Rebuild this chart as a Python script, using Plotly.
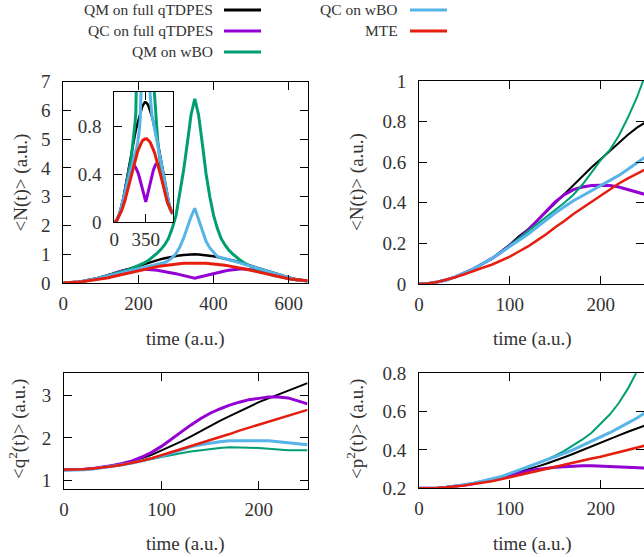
import plotly.graph_objects as go

# ---------------- data ----------------
series_names = ["QM on full qTDPES", "QC on full qTDPES", "QM on wBO", "QC on wBO", "MTE"]
series_colors = ["#000000", "#9400D3", "#009E73", "#56B4E9", "#E51E10"]

# <N(t)>, time grid 0..650 a.u., step 10
t_N = list(range(0, 651, 10))
black_N = [0, 0.003, 0.01, 0.02, 0.035, 0.055, 0.075, 0.10, 0.125, 0.16,
           0.195, 0.235, 0.27, 0.31, 0.355, 0.40, 0.445, 0.49, 0.535, 0.575,
           0.615, 0.655, 0.695, 0.735, 0.77, 0.80,
           0.83, 0.86, 0.89, 0.915, 0.94, 0.96, 0.975, 0.99, 1.0, 1.0,
           0.995, 0.985, 0.97, 0.95, 0.93, 0.905, 0.88, 0.85, 0.82, 0.79,
           0.755, 0.715, 0.675, 0.635, 0.595, 0.55, 0.51, 0.465, 0.42, 0.38,
           0.335, 0.295, 0.255, 0.22, 0.185, 0.155, 0.13, 0.105, 0.085, 0.07]
purple_N = [0, 0.003, 0.01, 0.02, 0.035, 0.055, 0.075, 0.10, 0.125, 0.155,
            0.19, 0.225, 0.265, 0.31, 0.36, 0.405, 0.44, 0.465, 0.478, 0.485,
            0.487, 0.485, 0.478, 0.465, 0.452, 0.44,
            0.42, 0.40, 0.375, 0.35, 0.32, 0.29, 0.26, 0.23, 0.2, 0.17,
            0.2, 0.235, 0.27, 0.3, 0.33, 0.36, 0.39, 0.42, 0.445, 0.465,
            0.48, 0.487, 0.487, 0.48, 0.465, 0.445, 0.42, 0.39, 0.36, 0.325,
            0.29, 0.255, 0.22, 0.19, 0.16, 0.135, 0.115, 0.1, 0.085, 0.075]
green_N = [0, 0.003, 0.01, 0.02, 0.035, 0.055, 0.075, 0.10, 0.125, 0.155,
           0.19, 0.225, 0.26, 0.295, 0.33, 0.365, 0.40, 0.44, 0.49, 0.55,
           0.61, 0.66, 0.73, 0.82, 0.92, 1.04,
           1.17, 1.33, 1.55, 1.9, 2.35, 3.1, 3.9, 4.85, 5.85, 6.4,
           5.85, 4.85, 3.8, 3.0, 2.35, 1.9, 1.55, 1.33, 1.15, 1.02,
           0.9, 0.8, 0.71, 0.63, 0.56, 0.5, 0.44, 0.39, 0.34, 0.3,
           0.26, 0.23, 0.2, 0.17, 0.15, 0.13, 0.11, 0.095, 0.08, 0.07]
blue_N = [0, 0.003, 0.01, 0.02, 0.035, 0.055, 0.075, 0.10, 0.125, 0.155,
          0.185, 0.215, 0.245, 0.28, 0.315, 0.35, 0.38, 0.41, 0.435, 0.46,
          0.485, 0.51, 0.535, 0.565, 0.595, 0.625,
          0.66, 0.71, 0.78, 0.88, 1.02, 1.25, 1.55, 1.95, 2.3, 2.6,
          2.2, 1.8, 1.45, 1.22, 1.05, 0.92, 0.88, 0.85, 0.81, 0.78,
          0.74, 0.70, 0.66, 0.62, 0.58, 0.54, 0.50, 0.455, 0.41, 0.37,
          0.33, 0.29, 0.25, 0.215, 0.18, 0.15, 0.125, 0.1, 0.085, 0.07]
red_N = [0, 0.003, 0.01, 0.02, 0.033, 0.048, 0.065, 0.08, 0.095, 0.115,
         0.135, 0.16, 0.185, 0.215, 0.245, 0.28, 0.31, 0.345, 0.375, 0.405,
         0.435, 0.465, 0.495, 0.52, 0.545, 0.57,
         0.59, 0.61, 0.63, 0.65, 0.665, 0.675, 0.685, 0.69, 0.695, 0.695,
         0.695, 0.69, 0.685, 0.675, 0.665, 0.65, 0.635, 0.615, 0.595, 0.575,
         0.55, 0.525, 0.5, 0.47, 0.44, 0.41, 0.38, 0.35, 0.315, 0.285,
         0.25, 0.22, 0.195, 0.17, 0.15, 0.13, 0.115, 0.1, 0.085, 0.075]

# <q^2(t)> and <p^2(t)>, time grid 0..250 a.u., step 10
t_qp = list(range(0, 251, 10))
black_q = [1.25, 1.25, 1.26, 1.28, 1.31, 1.35, 1.39, 1.45, 1.52, 1.6,
           1.7, 1.8, 1.91, 2.03, 2.16, 2.28, 2.40, 2.51, 2.62, 2.73,
           2.84, 2.93, 3.02, 3.11, 3.2, 3.29]
purple_q = [1.25, 1.25, 1.26, 1.28, 1.31, 1.35, 1.40, 1.46, 1.55, 1.66,
            1.80, 1.97, 2.14, 2.30, 2.45, 2.58, 2.68, 2.77, 2.84, 2.9,
            2.93, 2.96, 2.96, 2.94, 2.87, 2.8]
green_q = [1.24, 1.24, 1.25, 1.27, 1.3, 1.33, 1.37, 1.41, 1.45, 1.5,
           1.55, 1.6, 1.64, 1.68, 1.71, 1.74, 1.76, 1.78, 1.78, 1.77,
           1.76, 1.74, 1.72, 1.71, 1.71, 1.71]
blue_q = [1.24, 1.24, 1.25, 1.27, 1.3, 1.33, 1.37, 1.41, 1.46, 1.51,
          1.57, 1.64, 1.72, 1.79, 1.84, 1.88, 1.91, 1.93, 1.93, 1.94,
          1.94, 1.93, 1.91, 1.88, 1.86, 1.84]
red_q = [1.25, 1.25, 1.26, 1.28, 1.3, 1.33, 1.37, 1.41, 1.46, 1.52,
         1.59, 1.66, 1.73, 1.80, 1.87, 1.95, 2.02, 2.09, 2.17, 2.24,
         2.31, 2.38, 2.45, 2.52, 2.59, 2.66]

black_p = [0.2, 0.2, 0.202, 0.205, 0.21, 0.217, 0.225, 0.234, 0.245, 0.257,
           0.27, 0.284, 0.298, 0.313, 0.328, 0.343, 0.362, 0.38, 0.4, 0.42,
           0.44, 0.458, 0.476, 0.495, 0.512, 0.53]
purple_p = [0.2, 0.2, 0.202, 0.205, 0.21, 0.217, 0.225, 0.234, 0.245, 0.257,
            0.269, 0.28, 0.29, 0.298, 0.305, 0.31, 0.313, 0.316, 0.317, 0.317,
            0.315, 0.313, 0.311, 0.309, 0.307, 0.305]
green_p = [0.2, 0.201, 0.203, 0.207, 0.212, 0.219, 0.227, 0.237, 0.248, 0.26,
           0.275, 0.292, 0.31, 0.33, 0.35, 0.37, 0.395, 0.423, 0.455, 0.49,
           0.535, 0.585, 0.645, 0.72, 0.81, 0.91]
blue_p = [0.2, 0.2, 0.202, 0.205, 0.21, 0.218, 0.226, 0.236, 0.247, 0.26,
          0.278, 0.295, 0.311, 0.328, 0.345, 0.363, 0.382, 0.402, 0.423, 0.445,
          0.467, 0.49, 0.515, 0.54, 0.567, 0.597]
red_p = [0.2, 0.2, 0.202, 0.205, 0.209, 0.215, 0.222, 0.229, 0.237, 0.247,
         0.258, 0.269, 0.28, 0.291, 0.302, 0.314, 0.324, 0.335, 0.345, 0.355,
         0.365, 0.377, 0.389, 0.4, 0.412, 0.424]

N_series = [black_N, purple_N, green_N, blue_N, red_N]
q_series = [black_q, purple_q, green_q, blue_q, red_q]
p_series = [black_p, purple_p, green_p, blue_p, red_p]

# ---------------- figure ----------------
W, H = 644, 557
FONT = "Liberation Serif"
TXT = "#333333"

def xd(a, b):
    return [a / W, min(b / W, 1.0)]

def yd(top, bottom):
    return [(H - bottom) / H, (H - top) / H]

fig = go.Figure()

big_w = [2.5, 3, 3, 3, 3]
small_w = [2, 3, 2, 3, 2.5]

def add_panel(x, ys, xa, ya, widths):
    for name, col, y, w in zip(series_names, series_colors, ys, widths):
        fig.add_trace(go.Scatter(x=x, y=y, mode="lines", name=name,
                                 line=dict(color=col, width=w),
                                 xaxis=xa, yaxis=ya, showlegend=False,
                                 hoverinfo="skip"))

add_panel(t_N, N_series, "x", "y", big_w)
add_panel(t_N, N_series, "x2", "y2", small_w)
add_panel(t_qp, q_series, "x3", "y3", small_w)
add_panel(t_qp, p_series, "x4", "y4", small_w)
add_panel(t_N, N_series, "x5", "y5", big_w)

ax_common = dict(showline=True, linecolor="black", linewidth=1, mirror="ticks",
                 ticks="inside", ticklen=8, tickwidth=1, tickcolor="black",
                 showgrid=False, zeroline=False, automargin=False,
                 tickfont=dict(family=FONT, size=19, color=TXT))

def xa(domain, rng, tv, anchor, standoff=3):
    d = dict(ax_common)
    d.update(domain=domain, range=rng, tickvals=tv, anchor=anchor,
             ticklabelstandoff=standoff)
    return d

def ya(domain, rng, tv, tt, anchor, standoff=8):
    d = dict(ax_common)
    d.update(domain=domain, range=rng, tickvals=tv, ticktext=tt, anchor=anchor,
             ticklabelstandoff=standoff)
    return d

fig.update_layout(
    template="none",
    width=W, height=H, margin=dict(l=0, r=0, t=0, b=0, pad=0),
    paper_bgcolor="white", plot_bgcolor="white", showlegend=False,
    font=dict(family=FONT, size=19, color=TXT),
    xaxis=xa(xd(63.3, 307.5), [0, 650], [0, 200, 400, 600], "y"),
    yaxis=ya(yd(81.7, 283), [0, 7], [0, 1, 2, 3, 4, 5, 6, 7],
             ["0", "1", "2", "3", "4", "5", "6", "7"], "x"),
    xaxis2=xa(xd(419, 644), [0, 247.7], [0, 100, 200], "y2"),
    yaxis2=ya(yd(81, 284), [0, 1], [0, 0.2, 0.4, 0.6, 0.8, 1],
              ["0", "0.2", "0.4", "0.6", "0.8", "1"], "x2"),
    xaxis3=xa(xd(64, 307.5), [0, 250], [0, 100, 200], "y3"),
    yaxis3=ya(yd(373.3, 489.3), [0.79, 3.52], [1, 2, 3], ["1", "2", "3"], "x3"),
    xaxis4=xa(xd(419, 644), [0, 247.7], [0, 100, 200], "y4"),
    yaxis4=ya(yd(373.3, 488.3), [0.2, 0.8], [0.2, 0.4, 0.6, 0.8],
              ["0.2", "0.4", "0.6", "0.8"], "x4"),
    xaxis5=xa(xd(114.3, 172.7), [0, 650], [0, 350], "y5", standoff=0),
    yaxis5=ya(yd(92, 222.3), [0, 1.085], [0, 0.4, 0.8], ["0", "0.4", "0.8"], "x5"),
)

annotations = []
def txt(text, x, y, size=19, angle=0, xanchor="center"):
    annotations.append(dict(text=text, x=x / W, y=1 - y / H, xref="paper", yref="paper",
                            showarrow=False, textangle=angle, xanchor=xanchor,
                            yanchor="middle",
                            font=dict(family=FONT, size=size, color=TXT)))

# axis titles
txt("time (a.u.)", 185.5, 339)
txt("time (a.u.)", 532.5, 339)
txt("time (a.u.)", 185.5, 544)
txt("time (a.u.)", 532.5, 544)
txt("&lt;N(t)&gt; (a.u.)", 21, 182.5, angle=-90)
txt("&lt;N(t)&gt; (a.u.)", 357.5, 182.5, angle=-90)
txt("&lt;q<sup>2</sup>(t)&gt; (a.u.)", 17, 429, angle=-90)
txt("&lt;p<sup>2</sup>(t)&gt; (a.u.)", 355, 429, angle=-90)

# legend (key) built from text + line samples
shapes = []
key_pos = [(215, 224, 261, 10), (215, 224, 261, 31), (215, 224, 261, 52),
           (400, 410, 447, 10), (400, 410, 447, 31)]
for name, col, (tx, x0, x1, yy) in zip(series_names, series_colors, key_pos):
    txt(name, tx, yy, size=15.5, xanchor="right")
    shapes.append(dict(type="line", xref="paper", yref="paper",
                       x0=x0 / W, x1=x1 / W, y0=1 - yy / H, y1=1 - yy / H,
                       line=dict(color=col, width=3)))

fig.update_layout(annotations=annotations, shapes=shapes)

fig.write_html("out.html", config={"displayModeBar": False},
               post_script="document.body.style.margin='0px';")
